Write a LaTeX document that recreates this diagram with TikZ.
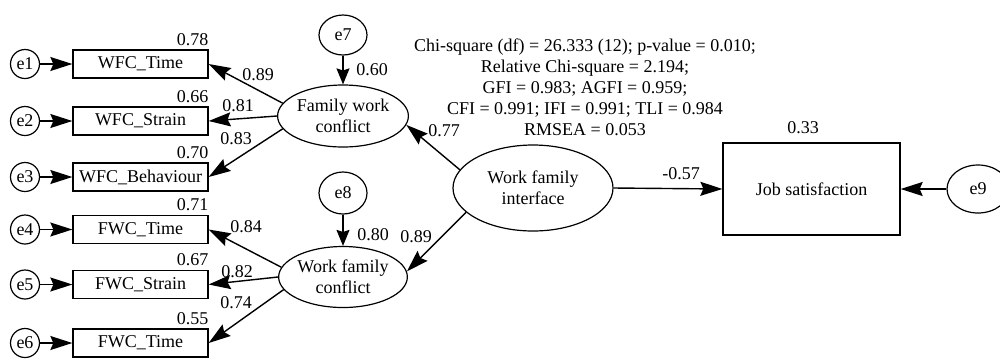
\documentclass[tikz,border=0pt]{standalone}
\usepackage{fontspec}
\setmainfont{Liberation Serif}
\usetikzlibrary{shapes.geometric,arrows.meta}
\begin{document}
\begin{tikzpicture}[x=1pt,y=-1pt,
  every node/.style={font=\fontsize{18}{21}\selectfont},
  obs/.style={draw, line width=1.3pt, minimum width=135pt, minimum height=28pt, inner sep=0pt},
  err/.style={draw, ellipse, line width=1.2pt, inner sep=0pt},
  lat/.style={draw, ellipse, line width=1.2pt, inner sep=0pt, align=center},
  arr/.style={line width=1.4pt, -{Stealth[length=22pt,width=14pt,inset=3pt]}},
  sarr/.style={line width=1.4pt, -{Stealth[length=16pt,width=13pt,inset=2pt]}},
  lbl/.style={inner sep=0pt},
  rsq/.style={inner sep=0pt, anchor=base east}
]
\useasboundingbox (0,0) rectangle (1000,360);

% observed indicators
\node[obs] (o1) at (140.5,64) {WFC\_Time};
\node[obs] (o2) at (140.5,121) {WFC\_Strain};
\node[obs] (o3) at (140.5,177) {WFC\_Behaviour};
\node[obs] (o4) at (140.5,229.5) {FWC\_Time};
\node[obs] (o5) at (140.5,284.5) {FWC\_Strain};
\node[obs] (o6) at (140.5,343) {FWC\_Time};

% errors of indicators
\foreach \i in {1,...,6} {
  \node[err, minimum width=29pt, minimum height=29pt] (e\i) at (o\i.center -| 25,0) {e\i};
  \draw[arr] (e\i.east) -- (o\i.west);
}

% squared multiple correlations of indicators
\node[rsq] (r1) at ([yshift=4pt]o1.north east) {0.78};
\node[rsq] (r2) at ([yshift=4pt]o2.north east) {0.66};
\node[rsq] (r3) at ([yshift=4pt]o3.north east) {0.70};
\node[rsq] (r4) at ([yshift=4pt]o4.north east) {0.71};
\node[rsq] (r5) at ([yshift=4pt]o5.north east) {0.67};
\node[rsq] (r6) at ([yshift=4pt]o6.north east) {0.55};

% latent factors
\node[lat, minimum width=120pt, minimum height=62pt] (fwc) at (343,116) {Family work\\conflict};
\node[lat, minimum width=120pt, minimum height=61pt] (wkfc) at (343,277) {Work family\\conflict};
\node[lat, minimum width=160pt, minimum height=86pt] (wfi) at (533,188) {Work family\\interface};

\node[err, minimum width=48pt, minimum height=40pt] (e7) at (343,35) {e7};
\node[err, minimum width=48pt, minimum height=42pt] (e8) at (343,193) {e8};

\node[obs, minimum width=177pt, minimum height=92pt] (js) at (811.5,189) {Job satisfaction};
\node[err, minimum width=62pt, minimum height=48pt] (e9) at (978,189) {e9};

% connectors
\draw[sarr] (e7.south) -- (fwc.north);
\draw[sarr] (e8.south) -- (wkfc.north);

\draw[arr] (fwc.168) -- (o1.east);
\draw[arr] (fwc.west) -- (o2.east);
\draw[arr] (fwc.192) -- (o3.east);
\draw[arr] (wkfc.171) -- (o4.east);
\draw[arr] (wkfc.west) -- (o5.east);
\draw[arr] (wkfc.192) -- (o6.east);

\draw[arr] (wfi.166) -- (fwc.-8);
\draw[arr] (wfi.200) -- (wkfc.5);
\draw[arr] (wfi.east) -- (js.west);
\draw[arr] (e9.west) -- (js.east);

% path labels
\node[lbl] (l1) at (258,75) {0.89};
\node[lbl] (l2) at (238,106) {0.81};
\node[lbl] (l3) at (236,139) {0.83};
\node[lbl] (l4) at (246,227) {0.84};
\node[lbl] (l5) at (237,272) {0.82};
\node[lbl] (l6) at (236,303) {0.74};
\node[lbl] (l7) at (444,131) {0.77};
\node[lbl] (l8) at (416,237) {0.89};
\node[lbl] (l9) at (372,70) {0.60};
\node[lbl] (l10) at (373,235) {0.80};
\node[lbl] (l11) at (681,174) {-0.57};
\node[lbl] (l12) at (803,128) {0.33};

% fit statistics
\node[lbl, align=center] (fit) at (585,87) {Chi-square (df) = 26.333 (12); p-value = 0.010;\\
Relative Chi-square = 2.194;\\
GFI = 0.983; AGFI = 0.959;\\
CFI = 0.991; IFI = 0.991; TLI = 0.984\\
RMSEA = 0.053};
\end{tikzpicture}
\end{document}
